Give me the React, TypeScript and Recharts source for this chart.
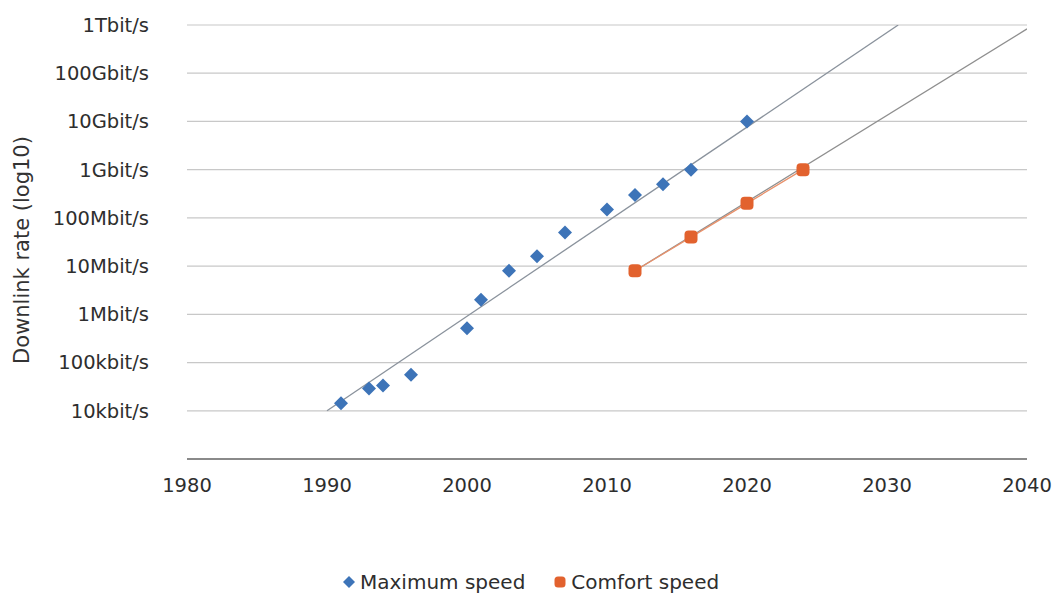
import {
  ComposedChart,
  Line,
  Scatter,
  XAxis,
  YAxis,
  CartesianGrid,
} from 'recharts';

// Peak downlink rates (bit/s) by year
const maxYears = [1991, 1993, 1994, 1996, 2000, 2001, 2003, 2005, 2007, 2010, 2012, 2014, 2016, 2020];
const maxRates = [14.4e3, 28.8e3, 33.6e3, 56e3, 512e3, 2e6, 8e6, 16e6, 50e6, 150e6, 300e6, 500e6, 1e9, 10e9];

const comfortYears = [2012, 2016, 2020, 2024];
const comfortRates = [8e6, 40e6, 200e6, 1e9];

// trend lines (start / end)
const maxTrendYears = [1990, 2030.8];
const maxTrendRates = [1e4, 1e12];
const comfortTrendYears = [2012, 2040];
const comfortTrendRates = [8e6, 8.3e11];

const xTicks = [1980, 1990, 2000, 2010, 2020, 2030, 2040];
const yTicks = [1e4, 1e5, 1e6, 1e7, 1e8, 1e9, 1e10, 1e11, 1e12];
const yLabels = ['10kbit/s', '100kbit/s', '1Mbit/s', '10Mbit/s', '100Mbit/s', '1Gbit/s', '10Gbit/s', '100Gbit/s', '1Tbit/s'];

const BLUE = '#3d74b8';
const ORANGE = '#e2622e';

const zip = (years: number[], rates: number[]) =>
  years.map((year, i) => ({ year, v: rates[i] }));

const maxData = zip(maxYears, maxRates);
const comfortData = zip(comfortYears, comfortRates);
const maxTrend = zip(maxTrendYears, maxTrendRates);
const comfortTrend = zip(comfortTrendYears, comfortTrendRates);

const Diamond = (props: any) => {
  const { cx, cy } = props;
  const r = 7;
  return (
    <path
      d={`M${cx},${cy - r}L${cx + r},${cy}L${cx},${cy + r}L${cx - r},${cy}Z`}
      fill={BLUE}
    />
  );
};

const RoundSquare = (props: any) => {
  const { cx, cy } = props;
  return <rect x={cx - 6.5} y={cy - 6.5} width={13} height={13} rx={4} fill={ORANGE} />;
};

const YTitle = () => (
  <text
    x={22}
    y={250}
    transform="rotate(-90 22 250)"
    textAnchor="middle"
    dominantBaseline="central"
    fill="#333"
    fontSize={21}
  >
    Downlink rate (log10)
  </text>
);

export default function App() {
  return (
    <div
      style={{
        position: 'absolute',
        left: 0,
        top: 0,
        width: 1056,
        height: 597,
        background: '#fff',
        fontFamily: 'DejaVu Sans, sans-serif',
      }}
    >
      <ComposedChart
        width={1056}
        height={597}
        margin={{ top: 25, right: 29, left: 0, bottom: 98 }}
      >
        <CartesianGrid vertical={false} stroke="#c8c8c8" strokeWidth={1.2} />
        <XAxis
          type="number"
          dataKey="year"
          domain={[1980, 2040]}
          ticks={xTicks}
          allowDataOverflow
          height={40}
          tickLine={false}
          tickSize={0}
          tickMargin={19}
          axisLine={{ stroke: '#8a8a8a', strokeWidth: 2 }}
          tick={{ fill: '#2e2e2e', fontSize: 19.5 }}
        />
        <YAxis
          type="number"
          dataKey="v"
          scale="log"
          domain={[1e3, 1e12]}
          ticks={yTicks}
          allowDataOverflow
          width={187}
          axisLine={false}
          tickLine={false}
          tickSize={0}
          tickMargin={38}
          tick={{ fill: '#2e2e2e', fontSize: 19.5 }}
          tickFormatter={(v: number) => yLabels[yTicks.indexOf(v)] ?? ''}
          label={{ value: 'Downlink rate (log10)', content: () => <YTitle /> }}
        />
        <Line
          data={maxTrend}
          dataKey="v"
          type="linear"
          stroke="#8a929c"
          strokeWidth={1.3}
          dot={false}
          isAnimationActive={false}
        />
        <Line
          data={comfortTrend}
          dataKey="v"
          type="linear"
          stroke="#8f8f8f"
          strokeWidth={1.3}
          dot={false}
          isAnimationActive={false}
        />
        <Line
          data={comfortData}
          dataKey="v"
          type="linear"
          stroke="#e8916b"
          strokeWidth={1.3}
          dot={false}
          isAnimationActive={false}
        />
        <Scatter data={maxData} dataKey="v" shape={<Diamond />} isAnimationActive={false} />
        <Scatter data={comfortData} dataKey="v" shape={<RoundSquare />} isAnimationActive={false} />
      </ComposedChart>
      <div
        style={{
          position: 'absolute',
          left: 341,
          top: 570,
          display: 'flex',
          alignItems: 'center',
          fontSize: 20,
          color: '#2e2e2e',
          whiteSpace: 'nowrap',
        }}
      >
        <svg width={16} height={16} style={{ marginRight: 3 }}>
          <path d="M8,2L14,8L8,14L2,8Z" fill={BLUE} />
        </svg>
        <span>Maximum speed</span>
        <svg width={16} height={16} style={{ marginLeft: 27, marginRight: 3 }}>
          <rect x={2.5} y={2.5} width={11} height={11} rx={3.5} fill={ORANGE} />
        </svg>
        <span>Comfort speed</span>
      </div>
    </div>
  );
}
